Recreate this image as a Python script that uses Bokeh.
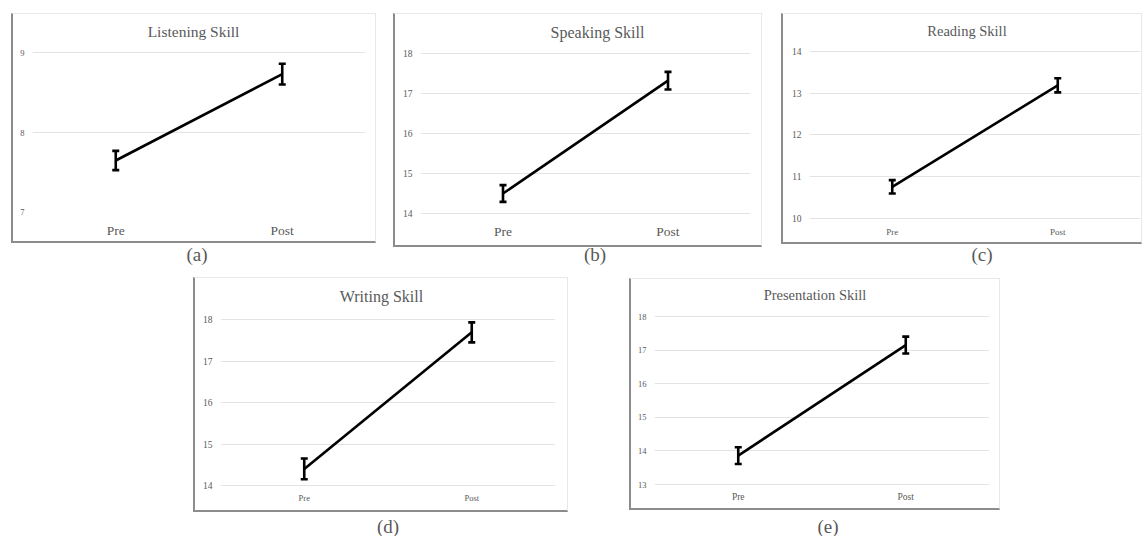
from bokeh.plotting import figure
from bokeh.models import (Range1d, FactorRange, FixedTicker, Whisker, TeeHead, ColumnDataSource,
                          Div, Spacer)
from bokeh.layouts import row, column
from bokeh.embed import file_html
from bokeh.resources import INLINE

# ---------------- data ----------------
categories = ["Pre", "Post"]

listening_mean = [7.65, 8.73]
listening_err = [0.12, 0.13]
listening_ticks = [7, 8, 9]
listening_grid = [8, 9]

speaking_mean = [14.50, 17.32]
speaking_err = [0.21, 0.22]
speaking_ticks = [14, 15, 16, 17, 18]

reading_mean = [10.76, 13.19]
reading_err = [0.16, 0.17]
reading_ticks = [10, 11, 12, 13, 14]

writing_mean = [14.40, 17.69]
writing_err = [0.25, 0.24]
writing_ticks = [14, 15, 16, 17, 18]

presentation_mean = [13.86, 17.15]
presentation_err = [0.25, 0.25]
presentation_ticks = [13, 14, 15, 16, 17, 18]

panel_titles = ["Listening Skill", "Speaking Skill", "Reading Skill", "Writing Skill", "Presentation Skill"]
panel_labels = ["(a)", "(b)", "(c)", "(d)", "(e)"]

FONT = "Liberation Serif"
TXT = "#595959"
GRID = "#e3e3e3"
TITLE_H = 30


def make_panel(title, means, errs, ticks, grid_ticks, box, frame_x, tick_px,
               title_pos, title_fs, tick_fs, cat_fs, cat_standoff):
    bx0, by0, bx1, by1 = box
    cx0, cy0, cx1, cy1 = bx0 + 2, by0 + 1, bx1 - 1, by1 - 2
    W = round(cx1 - cx0)
    lo, hi = ticks[0], ticks[-1]
    y_hi, y_lo = tick_px
    ppu = (y_lo - y_hi) / (hi - lo)
    pad_t, pad_b = 2, 1
    fr_top = y_hi - pad_t
    fr_bot = y_lo + pad_b
    p = figure(width=W, height=round(cy1 - cy0) - TITLE_H,
               x_range=FactorRange(*categories),
               y_range=Range1d(lo - pad_b / ppu, hi + pad_t / ppu),
               output_backend="svg", toolbar_location=None, title=None,
               min_border_left=round(frame_x[0] - cx0),
               min_border_right=round(cx1 - frame_x[1]),
               min_border_top=max(0, round(fr_top - cy0 - TITLE_H)),
               min_border_bottom=round(cy1 - fr_bot))
    p.outline_line_color = None
    p.background_fill_color = "white"
    p.border_fill_color = "white"

    p.xgrid.grid_line_color = None
    p.ygrid.grid_line_color = GRID
    p.ygrid.grid_line_width = 1
    p.ygrid.ticker = FixedTicker(ticks=grid_ticks if grid_ticks is not None else ticks)

    p.yaxis.ticker = FixedTicker(ticks=ticks)
    for ax in (p.xaxis[0], p.yaxis[0]):
        ax.axis_line_color = None
        ax.major_tick_line_color = None
        ax.minor_tick_line_color = None
        ax.major_tick_out = 0
        ax.major_tick_in = 0
        ax.major_label_text_font = FONT
        ax.major_label_text_color = TXT
    p.yaxis.major_label_text_font_size = f"{tick_fs}px"
    p.yaxis.major_label_standoff = 8
    p.xaxis.major_label_text_font_size = f"{cat_fs}px"
    p.xaxis.major_label_standoff = cat_standoff

    p.line(x=categories, y=means, line_width=2.6, line_color="black")
    src = ColumnDataSource(dict(x=categories,
                                upper=[m + e for m, e in zip(means, errs)],
                                lower=[m - e for m, e in zip(means, errs)]))
    w = Whisker(base="x", upper="upper", lower="lower", source=src,
                line_width=2.6, line_color="black",
                upper_head=TeeHead(size=7, line_width=2.6, line_color="black"),
                lower_head=TeeHead(size=7, line_width=2.6, line_color="black"))
    p.add_layout(w)

    # chart title inside the box, above the plot
    lh = round(title_fs * 1.2)
    rel_x = title_pos[0] - cx0
    rel_y = title_pos[1] - cy0
    html = (f'<div style="position:relative;width:{W}px;height:{TITLE_H}px">'
            f'<span style="position:absolute;left:{rel_x - 150:.1f}px;width:300px;'
            f'top:{rel_y - lh / 2:.1f}px;line-height:{lh}px;text-align:center;white-space:nowrap;'
            f'font-family:\'{FONT}\';font-size:{title_fs}px;color:{TXT}">{title}</span></div>')
    tdiv = Div(text=html, width=W, height=TITLE_H, margin=0,
               styles={"overflow": "visible", "background-color": "white"})

    box_el = column(tdiv, p, spacing=0,
                    styles={"box-sizing": "content-box", "background-color": "white",
                            "border-left": "2px solid #8c8c8c", "border-bottom": "2px solid #8c8c8c",
                            "border-top": "1px solid #e8e8e8", "border-right": "1px solid #e8e8e8"})
    return box_el


# boxes are given in reference-image pixels
fa = make_panel(panel_titles[0], listening_mean, listening_err, listening_ticks, listening_grid,
                (11, 13, 376, 243), (32, 365), (52.3, 211.7), (193.5, 31.5), 15.5, 8.5, 13.5, 9)
fb = make_panel(panel_titles[1], speaking_mean, speaking_err, speaking_ticks, None,
                (393, 13, 762, 247), (420.2, 750.2), (52.7, 213.3), (597.5, 32), 16, 9.5, 13.5, 9)
fc = make_panel(panel_titles[2], reading_mean, reading_err, reading_ticks, None,
                (781, 13, 1142, 244), (808.7, 1140), (50.7, 218.3), (967, 31), 14.5, 9.5, 9, 7)
fd = make_panel(panel_titles[3], writing_mean, writing_err, writing_ticks, None,
                (193, 277, 568, 512), (220.2, 555.5), (319, 485), (381.5, 296), 16, 9.5, 8.5, 6)
fe = make_panel(panel_titles[4], presentation_mean, presentation_err, presentation_ticks, None,
                (629, 278, 1000, 510), (654, 989.5), (316, 484), (815, 295), 14.5, 8.5, 9.5, 6)


def label_div(t, h, shift):
    html = (f'<div style="font-family:\'{FONT}\';font-size:19px;color:{TXT};'
            f'text-align:center;line-height:{h}px;position:relative;top:{shift}px;width:40px">{t}</div>')
    return Div(text=html, width=40, height=h, margin=0, styles={"overflow": "visible"})


row1 = row(Spacer(width=11), fa, Spacer(width=17), fb, Spacer(width=19), fc)
labels1 = row(Spacer(width=177), label_div(panel_labels[0], 16, 0),
              Spacer(width=358), label_div(panel_labels[1], 16, 0),
              Spacer(width=347), label_div(panel_labels[2], 16, 0))
row2 = row(Spacer(width=193), fd, Spacer(width=61), column(Spacer(height=1), fe))
labels2 = row(Spacer(width=368), label_div(panel_labels[3], 22, 4),
              Spacer(width=400), label_div(panel_labels[4], 22, 4))

layout = column(Spacer(height=13), row1, labels1, Spacer(height=14), row2, labels2)

open("out.html", "w").write(file_html(layout, INLINE))
